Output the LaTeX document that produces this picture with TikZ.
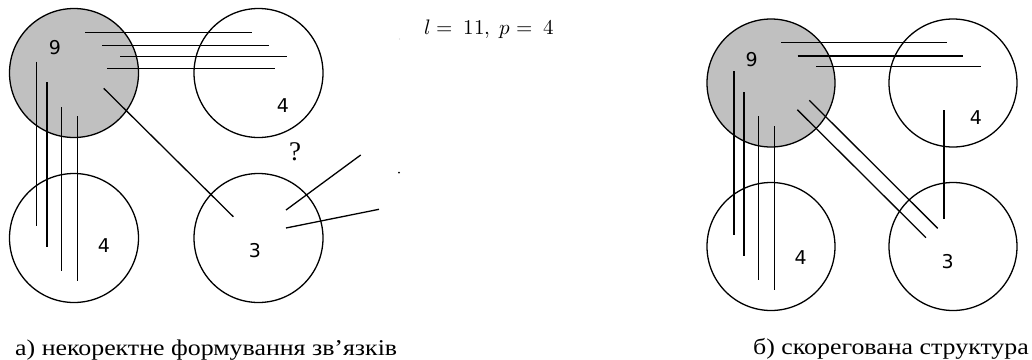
\documentclass[tikz,border=0pt]{standalone}
\usepackage{fontspec}
\setmainfont{Liberation Serif}
\newfontfamily\numfont{DejaVu Sans}
\newfontfamily\capfont[FakeStretch=1.15]{Liberation Serif}
\usepackage{unicode-math}
\setmathfont{Latin Modern Math}
\definecolor{shade}{HTML}{C0C0C0}
\tikzset{
  bigc/.style={circle, draw=black, line width=1.3pt, minimum size=#1, inner sep=0pt},
  ln/.style={line width=1.3pt},
  num/.style={font=\numfont\fontsize{19}{21}\selectfont, inner sep=0pt},
  captext/.style={font=\capfont\fontsize{22.5}{26}\selectfont, inner sep=0pt, anchor=base west},
}
\begin{document}
\begin{tikzpicture}[x=1pt,y=-1pt]
\useasboundingbox (0,0) rectangle (1032,359);
% ---------- left panel ----------
\node[bigc=129pt, fill=shade] (a9) at (74,73) {};
\node[bigc=129pt] (a4t) at (258.5,73) {};
\node[bigc=129pt] (a4b) at (74,238) {};
\node[bigc=129pt] (a3) at (258.5,238) {};
\node[num] (la9) at (55,48) {9};
\node[num] (la4t) at (283,106) {4};
\node[num] (la4b) at (104,246) {4};
\node[num] (la3) at (255,251) {3};
% horizontal links
\draw[ln] (85,32.3) -- (252,32.3);
\draw[ln] (102,45.7) -- (269,45.7);
\draw[ln] (120,56.7) -- (287,56.7);
\draw[ln] (107,68.7) -- (275,68.7);
% vertical links
\draw[ln] (36.7,61.7) -- (36.7,226);
\draw[ln] (47,82) -- (47,247);
\draw[ln] (61.3,107) -- (61.3,271);
\draw[ln] (77.7,116) -- (77.7,281);
% diagonal
\draw[ln] (103.7,88.3) -- (233.3,216.7);
% dangling links
\draw[ln] (286,210) -- (360.7,155);
\draw[ln] (286,228) -- (379,209.3);
\node[font=\fontsize{27}{30}\selectfont, inner sep=0pt] (q) at (295,152) {?};
\fill (399,172.7) circle (1pt);
\fill[black!20] (399.5,39) circle (0.6pt);
\node[font=\fontsize{21}{24}\selectfont, inner sep=0pt, anchor=base west] (f) at (424,34) {$l=\ 11,\ p=\ 4$};
% ---------- right panel ----------
\node[bigc=128pt, fill=shade] (b9) at (771,83) {};
\node[bigc=128pt] (b4t) at (953,83) {};
\node[bigc=128pt] (b4b) at (771,246.5) {};
\node[bigc=128pt] (b3) at (953,246.5) {};
\node[num] (lb9) at (751.7,60) {9};
\node[num] (lb4t) at (976,118) {4};
\node[num] (lb4b) at (800.7,257.7) {4};
\node[num] (lb3) at (947.7,262) {3};
\draw[ln] (781,42.3) -- (946.7,42.3);
\draw[ln] (797.7,56) -- (962.7,56);
\draw[ln] (816,66.3) -- (981,66.3);
\draw[ln] (734,71) -- (734,235.3);
\draw[ln] (744,92) -- (744,256.3);
\draw[ln] (758.3,116) -- (758.3,280);
\draw[ln] (774.7,126) -- (774.7,290);
\draw[ln] (809.3,100.3) -- (937.7,228.3);
\draw[ln] (797.3,109.7) -- (926,237.7);
\draw[ln] (944,110) -- (944,219.3);
% ---------- captions ----------
\node[captext] (ca) at (15,355) {а) некоректне формування зв’язків};
\node[captext, anchor=base east] (cb) at (1029,354) {б) скорегована структура};
\end{tikzpicture}
\end{document}
